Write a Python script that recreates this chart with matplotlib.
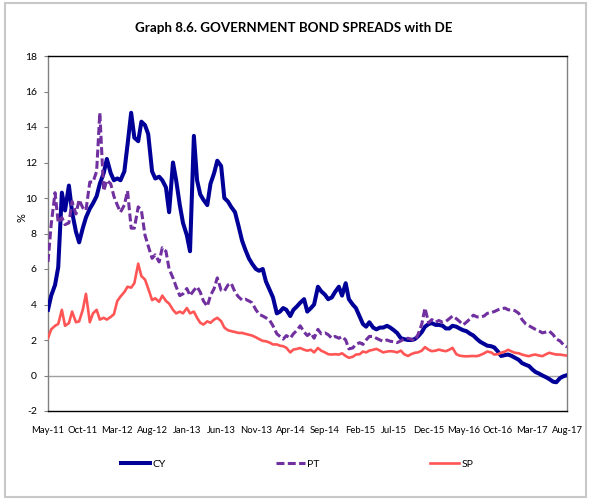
import matplotlib
matplotlib.use("Agg")
import matplotlib.pyplot as plt
import pandas as pd
from matplotlib.patches import Rectangle

# semi-monthly observations, May 2011 .. Aug 2017
start_date = "2011-05-01"
n_points = 151

cy = [3.7, 4.5, 5.1, 6.1, 10.3, 9.3, 10.7, 9.2, 8.1, 7.5,
      8.3, 8.9, 9.4, 9.7, 10.1, 10.8, 11.4, 12.2, 11.4, 11.0,
      11.1, 11.0, 11.5, 13.0, 14.8, 13.4, 13.2, 14.3, 14.1, 13.6,
      11.5, 11.1, 11.2, 11.0, 10.6, 9.2, 12.0, 11.0, 9.6, 8.6,
      7.9, 7.0, 13.5, 11.0, 10.2, 9.9, 9.6, 10.8, 11.4, 12.1,
      11.8, 10.0, 9.8, 9.5, 9.2, 8.5, 7.6, 7.1, 6.6, 6.3,
      6.0, 5.9, 6.0, 5.3, 4.8, 4.4, 3.5, 3.6, 3.8, 3.7,
      3.35, 3.7, 3.9, 4.1, 4.3, 3.6, 3.8, 4.0, 5.0, 4.75,
      4.55, 4.3, 4.4, 4.7, 5.0, 4.5, 5.2, 4.3, 4.0, 3.8,
      3.3, 2.9, 2.75, 3.0, 2.7, 2.6, 2.7, 2.7, 2.8, 2.7,
      2.55, 2.4, 2.1, 2.05, 2.0, 2.0, 2.05, 2.2, 2.45, 2.75,
      2.9, 2.95, 2.85, 2.85, 2.8, 2.65, 2.65, 2.8, 2.75, 2.65,
      2.55, 2.5, 2.35, 2.25, 2.05, 1.9, 1.78, 1.68, 1.65, 1.58,
      1.35, 1.1, 1.15, 1.18, 1.1, 1.0, 0.88, 0.7, 0.6, 0.53,
      0.35, 0.2, 0.1, 0.0, -0.1, -0.2, -0.35, -0.38, -0.15, -0.05,
      0.02]

pt = [6.4, 8.5, 10.3, 8.6, 8.9, 8.5, 8.6, 9.8, 9.1, 9.9,
      9.45, 9.3, 10.9, 10.9, 11.5, 14.8, 10.4, 11.0, 10.8, 10.1,
      9.6, 9.2, 9.6, 10.4, 8.3, 8.3, 9.5, 9.3, 7.9, 7.3,
      6.6, 6.8, 6.4, 7.2, 7.0, 6.0, 5.5, 5.0, 4.5, 4.6,
      4.9, 4.5, 4.8, 5.0, 4.7, 4.2, 3.9, 4.5, 4.9, 5.5,
      4.8, 4.75, 5.1, 5.2, 4.7, 4.45, 4.25, 4.3, 4.2, 4.1,
      3.7, 3.45, 3.35, 3.25, 3.1, 2.8, 2.35, 2.2, 2.05, 2.25,
      2.1, 2.35, 2.55, 2.8, 2.45, 2.25, 2.4, 2.1, 2.6, 2.35,
      2.4, 2.3, 2.1, 2.2, 2.1, 2.2, 2.0, 1.5, 1.55, 1.75,
      1.85, 1.75, 2.0, 2.2, 2.2, 2.1, 2.0, 1.93, 2.0, 1.93,
      1.9, 1.85, 1.95, 2.05, 2.1, 2.05, 1.95, 2.3, 2.9, 3.8,
      2.97, 3.15, 3.0, 3.1, 3.0, 3.05, 3.2, 3.35, 3.2, 3.05,
      2.85, 3.0, 3.2, 3.4, 3.3, 3.3, 3.35, 3.5, 3.55, 3.6,
      3.7, 3.75, 3.8, 3.7, 3.7, 3.65, 3.5, 3.15, 2.9, 2.8,
      2.7, 2.6, 2.5, 2.4, 2.45, 2.5, 2.3, 2.05, 1.95, 1.75,
      1.6]

sp = [2.1, 2.6, 2.8, 2.9, 3.7, 2.8, 2.95, 3.6, 3.0, 3.05,
      3.7, 4.6, 3.0, 3.5, 3.7, 3.15, 3.25, 3.15, 3.3, 3.45,
      4.2, 4.45, 4.7, 5.0, 4.95, 5.2, 6.3, 5.6, 5.4, 4.9,
      4.25, 4.35, 4.15, 4.5, 4.2, 4.05, 3.7, 3.5, 3.6, 3.5,
      3.8, 3.5, 3.6, 3.25, 2.97, 2.87, 3.05, 2.97, 3.15, 3.25,
      3.06, 2.7, 2.55, 2.5, 2.45, 2.4, 2.4, 2.35, 2.3, 2.25,
      2.15, 2.05, 1.95, 1.93, 1.85, 1.75, 1.75, 1.68, 1.65, 1.56,
      1.3, 1.46, 1.5, 1.55, 1.45, 1.4, 1.45, 1.3, 1.55, 1.4,
      1.3, 1.2, 1.18, 1.2, 1.18, 1.25, 1.1, 1.0, 1.05, 1.18,
      1.2, 1.35, 1.3, 1.4, 1.45, 1.5, 1.4, 1.3, 1.35, 1.37,
      1.35, 1.3, 1.4, 1.2, 1.1, 1.2, 1.28, 1.3, 1.4, 1.6,
      1.45, 1.37, 1.4, 1.46, 1.4, 1.37, 1.45, 1.56, 1.2, 1.12,
      1.09, 1.08, 1.09, 1.1, 1.09, 1.15, 1.25, 1.35, 1.3, 1.18,
      1.2, 1.28, 1.35, 1.45, 1.35, 1.28, 1.25, 1.18, 1.12, 1.09,
      1.15, 1.18, 1.12, 1.09, 1.2, 1.28, 1.22, 1.18, 1.18, 1.15,
      1.12]

series_names = ["CY", "PT", "SP"]
colors = ["#000099", "#7030A0", "#FF5555"]
y_ticks = list(range(-2, 19, 2))
title = "Graph 8.6. GOVERNMENT BOND SPREADS with DE"

dates = pd.date_range(start_date, periods=n_points, freq="SMS")
tick_dates = pd.date_range(start_date, dates[-1], freq="5MS")

plt.rcParams["font.family"] = ["Lato", "DejaVu Sans"]

fig = plt.figure(figsize=(5.89, 5.00), dpi=100)
ax = fig.add_axes([48 / 589, 1 - 411 / 500, (567 - 48) / 589, (411 - 56) / 500])

ax.axhline(0, color="#a0a0a0", lw=1.0, zorder=1)
ax.plot(dates, cy, color=colors[0], lw=2.9, label=series_names[0], zorder=3,
        solid_joinstyle="round")
ax.plot(dates, pt, color=colors[1], lw=2.2, ls=(0, (2.6, 1.1)),
        label=series_names[1], zorder=4)
ax.plot(dates, sp, color=colors[2], lw=1.9, label=series_names[2], zorder=5)

ax.set_xlim(dates[0], dates[-1])
ax.set_ylim(-2, 18)
ax.set_yticks(y_ticks)
ax.set_yticklabels([str(t) for t in y_ticks], fontsize=7.5)
ax.set_xticks(tick_dates)
ax.set_xticklabels([d.strftime("%b-%y") for d in tick_dates], fontsize=6.8)
ax.tick_params(axis="x", length=0, pad=11)
ax.tick_params(axis="y", length=3, width=0.8, color="#808080", pad=5)

for side in ["top", "bottom"]:
    ax.spines[side].set_color("#000000")
    ax.spines[side].set_linewidth(1.0)
for side in ["left", "right"]:
    ax.spines[side].set_color("#808080")
    ax.spines[side].set_linewidth(1.0)

fig.text(22 / 589, 1 - 218 / 500, "%", rotation=90, ha="center", va="center",
         fontsize=8)
fig.text(294 / 589, 1 - 28 / 500, title, ha="center", va="center",
         fontsize=9.6, fontweight="bold")

fig.legend(loc="center", bbox_to_anchor=(297 / 589, 1 - 464 / 500), ncol=3,
           frameon=False, fontsize=7.5, handlelength=2.8, handletextpad=0.2,
           columnspacing=10.6)

fig.patches.append(Rectangle((5 / 589, 3 / 500), 581 / 589, 494 / 500,
                             transform=fig.transFigure, fill=False,
                             edgecolor="#c8c8c8", lw=1.5))

fig.savefig("out.png", dpi=100)
